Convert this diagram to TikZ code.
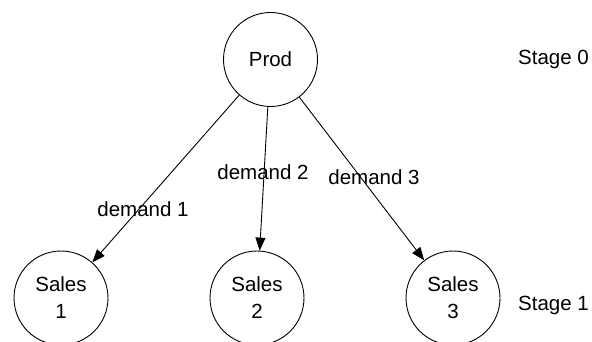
\documentclass[tikz,border=0pt]{standalone}
\usepackage{fontspec}
\setmainfont{Liberation Sans}
\usetikzlibrary{arrows.meta}
\begin{document}
\begin{tikzpicture}[x=1pt,y=-1pt,
  state/.style={draw, circle, line width=0.9pt, minimum size=94pt, inner sep=0pt, align=center,
    font=\fontsize{20.5}{27}\selectfont},
  lbl/.style={font=\fontsize{20.5}{24}\selectfont, inner sep=0pt},
  flow/.style={draw, line width=0.9pt, -{Triangle[length=13pt,width=10pt]}}]
\useasboundingbox (0,0) rectangle (592,342);
\clip (0,0) rectangle (592,342);
\node[state] (prod) at (270.5,59.5) {Prod};
\node[state] (s1) at (61,298) {Sales\\1};
\node[state] (s2) at (257,298) {Sales\\2};
\node[state] (s3) at (453,298) {Sales\\3};
\draw[flow] (prod) -- (s1);
\draw[flow] (prod) -- (s2);
\draw[flow] (prod) -- (s3);
\node[lbl] (d1) at (143,209) {demand 1};
\node[lbl] (d2) at (263,172) {demand 2};
\node[lbl] (d3) at (374,177) {demand 3};
\node[lbl, anchor=west] (st0) at (518,59) {Stage 0};
\node[lbl, anchor=west] (st1) at (518,305) {Stage 1};
\end{tikzpicture}
\end{document}
